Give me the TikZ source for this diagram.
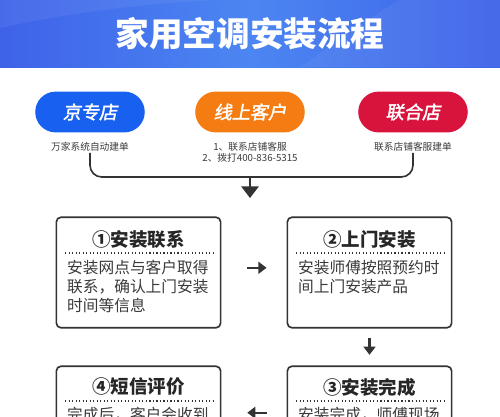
\documentclass[tikz,border=0pt]{standalone}
\usepackage{fontspec}
\setmainfont{Noto Sans CJK SC}
\newfontfamily\pillfont{Noto Sans CJK SC}[FakeSlant=0.18,FakeBold=2]
\usepackage{xcolor}
\usetikzlibrary{arrows.meta,positioning,calc}
\definecolor{hdrblue}{HTML}{3E62E8}
\definecolor{hdrlight}{HTML}{4C86F2}
\definecolor{jdblue}{HTML}{1760F0}
\definecolor{onorange}{HTML}{F47C12}
\definecolor{unired}{HTML}{D8133C}
\definecolor{boxline}{HTML}{333333}
\definecolor{bodytxt}{HTML}{3A3A3A}

\begin{document}
\begin{tikzpicture}[
    x=0.03cm, y=-0.03cm,
    pill/.style={
        rounded corners=20.5*0.85pt,
        minimum width=110*0.85pt,
        minimum height=41*0.85pt,
        text=white,
        font=\pillfont\fontsize{15.5pt}{16pt}\selectfont,
        inner sep=0pt
    },
    sub/.style={
        font=\fontsize{8.3pt}{9.4pt}\selectfont,
        text=bodytxt,
        align=center,
        inner sep=1pt
    },
    stepbox/.style={
        draw=boxline,
        line width=1.4pt,
        rounded corners=4pt,
        minimum width=165*0.85pt,
        minimum height=111*0.85pt,
        fill=white
    },
    steptitle/.style={
        font=\bfseries\fontsize{15.8pt}{16pt}\selectfont,
        text=black!85,
        inner sep=0pt
    },
    stepbody/.style={
        font=\fontsize{13.4pt}{16.2pt}\selectfont,
        text=bodytxt,
        align=left,
        anchor=north west,
        inner sep=0pt
    },
    rule/.style={boxline, line width=1pt, dotted},
    arr/.style={-{Triangle[length=7pt,width=10pt]}, line width=1.8pt, boxline},
    feed/.style={line width=1.4pt, boxline, rounded corners=10pt}
]
\useasboundingbox (0,0) rectangle (500,417);
\clip (0,0) rectangle (500,417);

% header
\shade[left color=hdrblue, right color=hdrblue, middle color=hdrlight] (0,0) rectangle (500,67);
\fill[white, opacity=0.06] (0,28) .. controls (80,10) and (180,0) .. (230,0) -- (0,0) -- cycle;
\fill[white, opacity=0.05] (300,67) .. controls (340,40) and (380,10) .. (400,0) -- (500,0) -- (500,67) -- cycle;
\node[font=\bfseries\fontsize{28.7pt}{30pt}\selectfont, text=white] (title) at (250,34) {家用空调安装流程};

% channels
\node[pill, fill=jdblue] (jd) at (90,112) {京专店};
\node[pill, fill=onorange] (online) at (250,112) {线上客户};
\node[pill, fill=unired] (union) at (413,112) {联合店};

\node[sub] (jdsub) at (90,147) {万家系统自动建单};
\node[sub] (onlinesub) at (250,152.5) {1、联系店铺客服\\2、拨打400-836-5315};
\node[sub] (unionsub) at (413,147) {联系店铺客服建单};

\coordinate (join) at (250,177);
\coordinate (drop) at (250,198);
\draw[feed] (jdsub.south) |- (join);
\draw[feed] (unionsub.south) |- (join);
\draw[-{Triangle[length=10pt,width=15pt]}, line width=1.4pt, boxline] (join) -- (drop);

% steps
\node[stepbox] (contact) at (138.5,272.5) {};
\node[stepbox] (visit) at (369.5,272.5) {};
\node[stepbox] (done) at (369.5,421.5) {};
\node[stepbox] (review) at (138.5,421.5) {};

\node[steptitle] (contactt) at (138.5,239) {①安装联系};
\draw[rule] (65,253) -- (213,253);
\node[stepbody] (contactb) at (67,260) {安装网点与客户取得\\联系，确认上门安装\\时间等信息};

\node[steptitle] (visitt) at (369.5,239) {②上门安装};
\draw[rule] (296,253) -- (444,253);
\node[stepbody] (visitb) at (298,260) {安装师傅按照预约时\\间上门安装产品};

\node[steptitle] (donet) at (369.5,387) {③安装完成};
\draw[rule] (296,401) -- (444,401);
\node[stepbody] (doneb) at (298,407) {安装完成，师傅现场};

\node[steptitle] (reviewt) at (138.5,387) {④短信评价};
\draw[rule] (65,401) -- (213,401);
\node[stepbody] (reviewb) at (67,407) {完成后，客户会收到};

\draw[arr, shorten <=22pt, shorten >=17pt] ([yshift=4pt]contact.east) -- ([yshift=4pt]visit.west);
\draw[arr, shorten <=8pt, shorten >=9pt] (visit.south) -- (done.north);
\draw[arr, shorten <=17pt, shorten >=22pt] ([yshift=7.5pt]done.west) -- ([yshift=7.5pt]review.east);
\end{tikzpicture}
\end{document}
